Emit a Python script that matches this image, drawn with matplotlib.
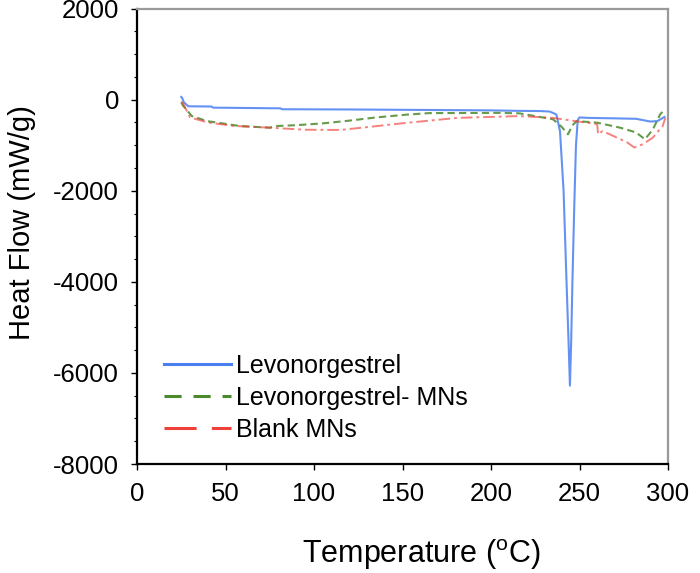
import matplotlib.pyplot as plt
from matplotlib.lines import Line2D
from matplotlib.ticker import MultipleLocator

plt.rcParams['font.family'] = ['Liberation Sans', 'DejaVu Sans']
plt.rcParams['axes.unicode_minus'] = False

# Levonorgestrel (solid blue)
t_levo = [25.0, 25.5, 26.5, 29, 42, 43, 81, 82, 120, 160, 200, 215, 228, 233, 235,
          237, 239, 241, 242.5, 243.8, 244.6, 245.3, 246, 247, 248, 249, 250,
          255, 270, 282, 290, 294, 298]
hf_levo = [60, 40, -60, -145, -150, -175, -190, -210, -215, -225, -235, -245, -250,
           -260, -290, -330, -700, -2000, -3800, -5300, -6280, -5300, -4000, -2400,
           -1000, -450, -390, -400, -410, -420, -480, -470, -380]

# Levonorgestrel- MNs (green dashed)
t_lmn = [25.0, 26, 31, 39.5, 58, 75, 78, 90, 105, 120, 135, 152, 165, 205, 216,
         235, 240, 243.5, 246, 248.5, 260, 273, 282, 287, 291.5, 295.5, 298]
hf_lmn = [-60, -130, -360, -470, -578, -615, -580, -560, -520, -460, -390, -330,
          -295, -290, -300, -430, -600, -760, -560, -470, -505, -615, -720, -870,
          -650, -325, -220]

# Blank MNs (red dash-dot)
t_blank = [25.0, 26, 30, 40, 55, 75, 95, 115, 133, 152, 181, 216, 235, 254, 260,
           260.5, 263, 269, 277, 281, 286, 291.5, 297, 298.5]
hf_blank = [-40, -80, -390, -500, -578, -615, -660, -665, -590, -510, -400, -360,
            -400, -505, -540, -760, -690, -795, -940, -1050, -975, -830, -578, -400]

labels = ['Levonorgestrel', 'Levonorgestrel- MNs', 'Blank MNs']
colors = ['#4a7ff0', '#4b8a2c', '#f0403a']

fig = plt.figure(figsize=(7, 5.73), dpi=100)
ax = fig.add_axes([137 / 700, 109 / 573, 531 / 700, (464 - 8.6) / 573])

ax.plot(t_levo, hf_levo, color=colors[0], lw=1.5, alpha=0.85)
ax.plot(t_lmn, hf_lmn, color=colors[1], lw=1.5, alpha=0.85, dashes=(3.5, 2))
ax.plot(t_blank, hf_blank, color=colors[2], lw=1.4, alpha=0.65, dashes=(6, 2, 1.5, 2))

ax.set_xlim(0, 300)
ax.set_ylim(-8000, 2000)
ax.xaxis.set_major_locator(MultipleLocator(50))
ax.yaxis.set_major_locator(MultipleLocator(2000))
ax.yaxis.set_minor_locator(MultipleLocator(500))
ax.tick_params(axis='both', which='major', direction='out', length=4, width=1,
               labelsize=18.5)
ax.tick_params(axis='y', which='minor', direction='out', length=2.5, width=0.8)
ax.tick_params(axis='y', pad=9)
ax.tick_params(axis='x', pad=9)

for side in ['left', 'bottom']:
    ax.spines[side].set_linewidth(1.6)
    ax.spines[side].set_color('black')
for side in ['top', 'right']:
    ax.spines[side].set_linewidth(1.6)
    ax.spines[side].set_color('#999999')

ax.set_xlabel('Temperature ($\\mathregular{^{o}}$C)', fontsize=22)
ax.set_ylabel('Heat Flow (mW/g)', fontsize=21)
ax.xaxis.set_label_coords(0.536, -0.16)
ax.yaxis.set_label_coords(-0.19, 0.53)

handles = [
    Line2D([], [], color=colors[0], lw=2.2),
    Line2D([], [], color=colors[1], lw=2.2, dashes=(5.6, 3.9)),
    Line2D([], [], color=colors[2], lw=2.2, dashes=(10.5, 5)),
]
ax.legend(handles, labels, loc='upper left', bbox_to_anchor=(0.032, 0.264),
          borderaxespad=0, frameon=False, fontsize=18, handlelength=2.7,
          handletextpad=0.2, labelspacing=0.32)

fig.savefig('out.png', dpi=100)
